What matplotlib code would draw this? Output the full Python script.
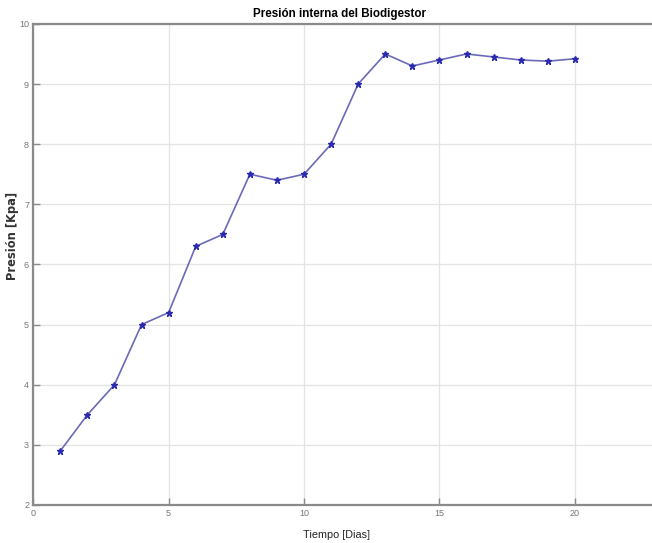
import matplotlib
matplotlib.use("Agg")
import matplotlib.pyplot as plt

dias = [1, 2, 3, 4, 5, 6, 7, 8, 9, 10, 11, 12, 13, 14, 15, 16, 17, 18, 19, 20]
presion = [2.9, 3.5, 4.0, 5.0, 5.2, 6.3, 6.5, 7.5, 7.4, 7.5, 8.0, 9.0, 9.5,
           9.3, 9.4, 9.5, 9.45, 9.4, 9.38, 9.42]
xticks = [0, 5, 10, 15, 20]
yticks = [2, 3, 4, 5, 6, 7, 8, 9, 10]

arial = ['Liberation Sans', 'DejaVu Sans']

fig = plt.figure(figsize=(6.52, 5.43), dpi=100)
ax = fig.add_axes([0.051, 0.070, 0.949, 0.886])

ax.plot(dias, presion, color='#6a6ab8', lw=1.2, marker='*', ms=4.5,
        mfc='#2a2ab0', mec='#2a2ab0', zorder=3)

ax.set_xlim(0, 22.85)
ax.set_ylim(2, 10)
ax.set_xticks(xticks)
ax.set_yticks(yticks)
ax.grid(True, color='#e4e4e4', lw=0.9)
ax.set_axisbelow(True)

for s in ['left', 'bottom', 'top']:
    ax.spines[s].set_color('#8a8a8a')
    ax.spines[s].set_linewidth(1.6)
ax.spines['right'].set_visible(False)

ax.tick_params(direction='in', length=5, color='#8a8a8a', labelcolor='#777777',
               labelsize=6.5, width=1, pad=3)
for lab in ax.get_xticklabels() + ax.get_yticklabels():
    lab.set_family(arial)

ax.set_title('Presión interna del Biodigestor', fontsize=8.4, fontweight='bold',
             family=arial, pad=5, x=0.495)
ax.set_xlabel('Tiempo [Dias]', fontsize=7.8, family=arial, color='#222222',
              fontweight='medium')
ax.xaxis.set_label_coords(0.49, -0.052)
ax.set_ylabel('Presión [Kpa]', fontsize=8.3, fontweight='bold', color='#333333')
ax.yaxis.set_label_coords(-0.023, 0.56)

fig.savefig('out.png', dpi=100)
